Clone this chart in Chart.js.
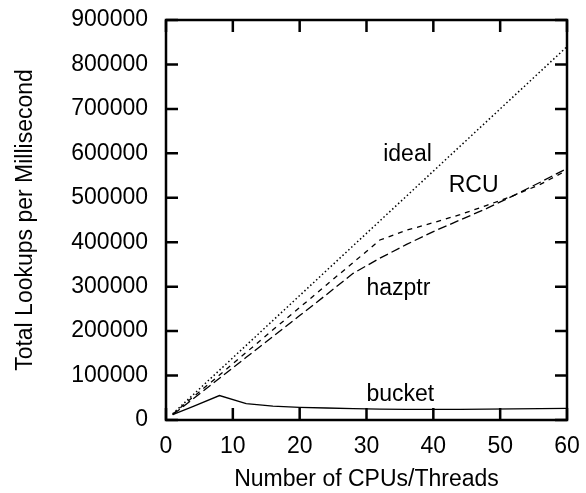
<!DOCTYPE html>
<html><head><meta charset="utf-8">
<script src="https://cdn.jsdelivr.net/npm/chart.js@4/dist/chart.umd.min.js"></script>
<style>html,body{margin:0;padding:0;background:#fff}#wrap{width:586px;height:493px;position:relative}</style>
</head><body><div id="wrap"><canvas id="c" width="586" height="493"></canvas></div>
<script>
// ---- data ----
const cpus   = [1, 4, 8, 12, 16, 20, 24, 28, 32, 36, 40, 44, 48, 52, 56, 60];
const ideal  = [14000, 56000, 112000, 168000, 224000, 280000, 336000, 392000, 448000, 504000, 560000, 616000, 672000, 728000, 784000, 840000];
const rcu    = [13000, 51000, 101000, 152000, 203000, 253000, 304000, 354000, 405000, 427000, 444000, 462000, 483000, 505000, 530000, 562000];
const hazptr = [12000, 47000, 94000, 141000, 188000, 235000, 282000, 330000, 364000, 395000, 424000, 450000, 476000, 505000, 535000, 566000];
const bucket = [12000, 30000, 55000, 37000, 31000, 28500, 27000, 25500, 24500, 24000, 24000, 24000, 24500, 25000, 25500, 26000];
const seriesNames = ['ideal', 'RCU', 'hazptr', 'bucket'];
const xTickValues = [0, 10, 20, 30, 40, 50, 60];
const yTickValues = [0, 100000, 200000, 300000, 400000, 500000, 600000, 700000, 800000, 900000];
const xTitle = 'Number of CPUs/Threads';
const yTitle = 'Total Lookups per Millisecond';

// ---- styling / layout ----
const FONT = {family: '"Liberation Sans", Arial, Helvetica, sans-serif', size: 23};
const inlineLabels = {
  anchors: [ {x: 32.5, y: 600000}, {x: 42.3, y: 530000}, {x: 30, y: 300000}, {x: 30, y: 60000} ]
};
const toPts = ys => cpus.map((x, i) => ({x: x, y: ys[i]}));
const styles = [
  {dash: [1.5, 2.5], width: 1.5},
  {dash: [5, 5], width: 1.3},
  {dash: [9, 4], width: 1.3},
  {dash: [], width: 1.3}
];
const seriesData = [ideal, rcu, hazptr, bucket];

const framePlugin = {
  id: 'frame',
  afterDraw(chart) {
    const ctx = chart.ctx, a = chart.chartArea;
    const xs = chart.scales.x, ys = chart.scales.y;
    const TL = 12;
    ctx.save();
    ctx.strokeStyle = '#000';
    ctx.lineWidth = 2.5;
    ctx.setLineDash([]);
    ctx.beginPath();
    xTickValues.forEach(v => {
      const p = xs.getPixelForValue(v);
      ctx.moveTo(p, a.bottom); ctx.lineTo(p, a.bottom - TL);
      ctx.moveTo(p, a.top); ctx.lineTo(p, a.top + TL);
    });
    yTickValues.forEach(v => {
      const p = ys.getPixelForValue(v);
      ctx.moveTo(a.left, p); ctx.lineTo(a.left + TL, p);
      ctx.moveTo(a.right, p); ctx.lineTo(a.right - TL, p);
    });
    ctx.stroke();
    ctx.strokeRect(a.left, a.top, a.right - a.left, a.bottom - a.top);
    // inline series labels
    ctx.fillStyle = '#000';
    ctx.font = FONT.size + 'px ' + FONT.family;
    ctx.textAlign = 'left';
    ctx.textBaseline = 'alphabetic';
    seriesNames.forEach((n, i) => {
      const an = inlineLabels.anchors[i];
      ctx.fillText(n, xs.getPixelForValue(an.x), ys.getPixelForValue(an.y) + 8);
    });
    ctx.restore();
  }
};

function noOverhang(s) {
  s.paddingTop = 0; s.paddingBottom = 0; s.paddingLeft = 0; s.paddingRight = 0;
}

new Chart(document.getElementById('c'), {
  type: 'line',
  data: {
    datasets: seriesNames.map((n, i) => ({
      label: n,
      data: toPts(seriesData[i]),
      borderColor: '#000',
      borderWidth: styles[i].width,
      borderDash: styles[i].dash,
      pointRadius: 0,
      fill: false,
      tension: 0
    }))
  },
  options: {
    responsive: false,
    animation: false,
    devicePixelRatio: 1,
    layout: {padding: {left: 0, right: 19, top: 20, bottom: 0}},
    plugins: {legend: {display: false}, tooltip: {enabled: false}},
    scales: {
      x: {
        type: 'linear', min: 0, max: 60,
        afterBuildTicks(s) { s.ticks = xTickValues.map(v => ({value: v})); },
        afterFit(s) { s.height = 73; noOverhang(s); },
        grid: {display: false, drawTicks: false},
        border: {display: false},
        ticks: {font: FONT, color: '#000', padding: 13, maxRotation: 0, autoSkip: false},
        title: {display: true, text: xTitle, font: FONT, color: '#000', padding: {top: 0, bottom: 0}}
      },
      y: {
        type: 'linear', min: 0, max: 900000,
        afterBuildTicks(s) { s.ticks = yTickValues.map(v => ({value: v})); },
        afterFit(s) { s.width = 166; noOverhang(s); },
        grid: {display: false, drawTicks: false},
        border: {display: false},
        ticks: {font: FONT, color: '#000', padding: 18, autoSkip: false, callback: v => String(v)},
        title: {display: true, text: yTitle, font: FONT, color: '#000', padding: {top: 12, bottom: 0}}
      }
    }
  },
  plugins: [framePlugin]
});
</script></body></html>
